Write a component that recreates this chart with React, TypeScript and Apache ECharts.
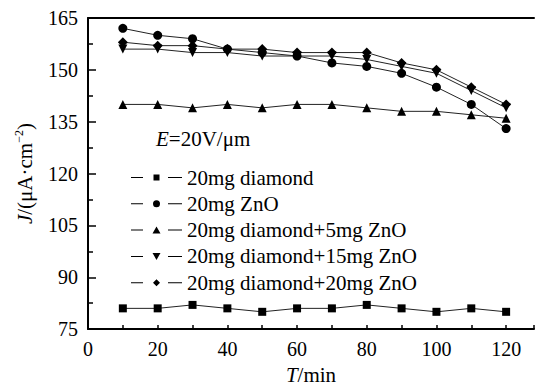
import React, { useEffect, useRef } from "react";
import * as echarts from "echarts";

const times = [10, 20, 30, 40, 50, 60, 70, 80, 90, 100, 110, 120];
const seriesNames = [
  "20mg diamond",
  "20mg ZnO",
  "20mg diamond+5mg ZnO",
  "20mg diamond+15mg ZnO",
  "20mg diamond+20mg ZnO",
];
const diamond20 = [81, 81, 82, 81, 80, 81, 81, 82, 81, 80, 81, 80];
const zno20 = [162, 160, 159, 156, 155, 154, 152, 151, 149, 145, 140, 133];
const diamondZno5 = [140, 140, 139, 140, 139, 140, 140, 139, 138, 138, 137, 136];
const diamondZno15 = [156, 156, 155, 155, 154, 154, 154, 153, 151, 149, 144, 139];
const diamondZno20 = [158, 157, 157, 156, 156, 155, 155, 155, 152, 150, 145, 140];
const yTicks = { min: 75, max: 165, interval: 15 };
const xTicks = { min: 0, max: 128, interval: 10, labelEvery: 20 };

const FONT = "Liberation Serif";

const LINES = "M0 3 h12 v1 h-12 z M37 3 h14 v1 h-14 z ";
const legendIcons = [
  "path://" + LINES + "M22.5 0.5 h6 v6 h-6 z M0 0 h0.01 v7 h-0.01 z",
  "path://" + LINES + "M29 3.5 A3.5 3.5 0 1 1 22 3.5 A3.5 3.5 0 1 1 29 3.5 z",
  "path://" + LINES + "M25.5 0 L29.5 7 L21.5 7 z",
  "path://" + LINES + "M21.5 0 L29.5 0 L25.5 7 z",
  "path://" + LINES + "M25.5 0 L29 3.5 L25.5 7 L22 3.5 z",
];

const txt = (size: number, extra: any = {}) => ({
  fontFamily: FONT,
  fontSize: size,
  color: "#000",
  ...extra,
});

const CSS = "#chart-box svg text, #chart-box svg tspan { font-family: 'Liberation Serif', serif !important; }";

export default function App() {
  const ref = useRef<HTMLDivElement>(null);
  useEffect(() => {
    if (!ref.current) return;
    const chart = echarts.init(ref.current, null, { renderer: "svg" });
    const valueSets = [diamond20, zno20, diamondZno5, diamondZno15, diamondZno20];
    const symbols = ["rect", "circle", "triangle", "triangle", "diamond"];
    const sizes = [8, 9, 9, 9, 10];
    const rotates = [0, 0, 0, 180, 0];
    const series = valueSets.map((vals, i) => ({
      name: seriesNames[i],
      type: "line",
      data: vals.map((v, j) => [times[j], v]),
      symbol: symbols[i],
      symbolSize: sizes[i],
      symbolRotate: rotates[i],
      showAllSymbol: true,
      lineStyle: { color: "#222", width: 1 },
      itemStyle: { color: "#000" },
      xAxisIndex: 0,
      yAxisIndex: 0,
    }));
    chart.setOption({
      animation: false,
      backgroundColor: "#fff",
      textStyle: { fontFamily: FONT },
      grid: { left: 88, top: 18, right: 0, bottom: 55, containLabel: false },
      legend: {
        orient: "vertical",
        left: 131,
        top: 167,
        padding: 0,
        itemWidth: 51,
        itemHeight: 7,
        itemGap: 5.3,
        textStyle: txt(21),
        data: seriesNames.map((n, i) => ({ name: n, icon: legendIcons[i] })),
      },
      xAxis: [
        {
          type: "value",
          min: xTicks.min,
          max: xTicks.max,
          interval: xTicks.interval,
          name: "{i|T}{r|/min}",
          nameLocation: "middle",
          nameGap: 32,
          nameTextStyle: {
            ...txt(21),
            rich: { i: txt(21, { fontStyle: "italic" }), r: txt(21) },
          },
          axisLine: { show: true, lineStyle: { color: "#000", width: 2 } },
          axisTick: { show: true, inside: true, length: 4, lineStyle: { color: "#000", width: 1.5 } },
          axisLabel: {
            ...txt(20),
            margin: 10,
            formatter: (v: number) =>
              v % xTicks.labelEvery === 0 && v <= 120 ? String(v) : "",
          },
          splitLine: { show: false },
        },
        {
          type: "value",
          position: "top",
          min: xTicks.min,
          max: xTicks.max,
          axisLine: { show: true, lineStyle: { color: "#000", width: 2 } },
          axisTick: { show: false },
          axisLabel: { show: false },
          splitLine: { show: false },
        },
      ],
      yAxis: {
        type: "value",
        min: yTicks.min,
        max: yTicks.max,
        interval: yTicks.interval,
        name: "{i|J}{r|/(μA·cm}{s|−2}{r|)}",
        nameLocation: "middle",
        nameRotate: 90,
        nameGap: 50,
        nameTextStyle: {
          ...txt(21, { lineHeight: 24 }),
          rich: {
            i: txt(21, { fontStyle: "italic", lineHeight: 24 }),
            r: txt(21, { lineHeight: 24 }),
            s: txt(12, { verticalAlign: "top", lineHeight: 24 }),
          },
        },
        axisLine: { show: true, lineStyle: { color: "#000", width: 2 } },
        axisTick: { show: true, inside: true, length: 8, lineStyle: { color: "#000", width: 1.5 } },
        minorTick: { show: true, splitNumber: 2, length: 5, lineStyle: { color: "#000", width: 1.5 } },
        axisLabel: { ...txt(20), margin: 10 },
        splitLine: { show: false },
      },
      graphic: [
        {
          type: "text",
          left: 156,
          top: 128,
          style: {
            text: "{i|E}{r|=20V/μm}",
            fontFamily: FONT,
            fontSize: 21,
            fill: "#000",
            rich: {
              i: { fontFamily: FONT, fontSize: 21, fontStyle: "italic", fill: "#000" },
              r: { fontFamily: FONT, fontSize: 21, fill: "#000" },
            },
          },
        },
      ],
      series,
    });
    return () => chart.dispose();
  }, []);
  return (
    <>
      <style>{CSS}</style>
      <div
        id="chart-box"
        ref={ref}
        style={{ width: 537, height: 390, position: "absolute", left: 0, top: 0 }}
      />
    </>
  );
}
